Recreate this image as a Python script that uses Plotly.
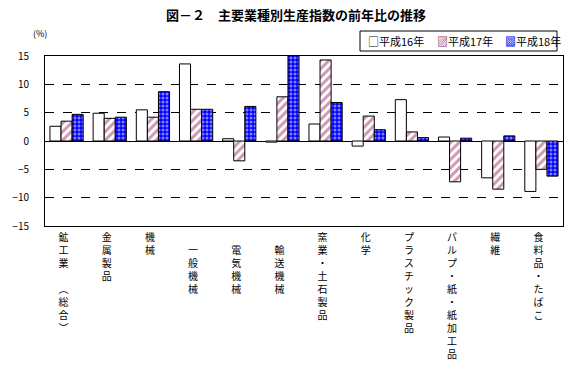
import plotly.graph_objects as go

categories = ["鉱工業　（総合）", "金属製品", "機械", "　一般機械", "　電気機械", "　輸送機械",
              "窯業・土石製品", "化学", "プラスチック製品", "パルプ・紙・紙加工品", "繊維", "食料品・たばこ"]
h16 = [2.6, 4.9, 5.5, 13.6, 0.4, -0.2, 3.0, -0.9, 7.3, 0.7, -6.5, -8.9]
h17 = [3.5, 4.0, 4.2, 5.6, -3.5, 7.8, 14.3, 4.4, 1.6, -7.2, -8.5, -5.0]
h18 = [4.7, 4.2, 8.7, 5.6, 6.1, 15.2, 6.8, 2.0, 0.6, 0.5, 0.9, -6.2]
series_names = ["平成16年", "平成17年", "平成18年"]
yticks = [-15, -10, -5, 0, 5, 10, 15]

VPAREN = {"（": "\ufe35", "）": "\ufe36"}


def vertical(label):
    return "<br>".join(VPAREN.get(c, c) for c in label)


ticktext = [vertical(c) for c in categories]

FONT = "Noto Sans CJK JP"
W, H = 576, 382
ML, MR, MT, MB = 45, 13, 56, 156
PW, PH = W - ML - MR, H - MT - MB


def px_x(x):
    return (x - ML) / PW


def px_y(y):
    return (H - MB - y) / PH


fig = go.Figure()
fig.add_bar(x=categories, y=h16, name=series_names[0],
            marker=dict(color="white", line=dict(color="black", width=1)))
fig.add_bar(x=categories, y=h17, name=series_names[1],
            marker=dict(color="white", line=dict(color="black", width=1),
                        pattern=dict(shape="/", fgcolor="#993366", bgcolor="white",
                                     size=6, solidity=0.5)))
fig.add_bar(x=categories, y=h18, name=series_names[2],
            marker=dict(color="#0000FF", line=dict(color="black", width=1),
                        pattern=dict(shape=".", fgcolor="white", bgcolor="#0000FF",
                                     size=4, solidity=0.45)))

fig.update_layout(
    width=W, height=H,
    margin=dict(l=ML, r=MR, t=MT, b=MB),
    paper_bgcolor="white", plot_bgcolor="white",
    barmode="group", bargap=0.23, bargroupgap=0,
    font=dict(family=FONT, size=10, color="black"),
    title=dict(text="<b>図－２　主要業種別生産指数の前年比の推移</b>",
               x=296 / W, xanchor="center", y=1 - 15 / H, yanchor="middle",
               font=dict(size=13, family=FONT)),
    showlegend=False,
    hovermode=False,
)
fig.update_xaxes(tickmode="array", tickvals=categories, ticktext=ticktext,
                 showline=True, linecolor="black", linewidth=1, mirror=True,
                 ticks="", tickangle=0, ticklabelshift=-3, ticklabelstandoff=2,
                 tickfont=dict(size=10))
fig.update_yaxes(range=[-15, 15], tickvals=yticks, showline=True, linecolor="black",
                 linewidth=1, mirror=True, showgrid=True, gridcolor="black",
                 griddash="dash", gridwidth=1, zeroline=True, zerolinecolor="black",
                 zerolinewidth=1, ticks="", ticklabelstandoff=13, tickfont=dict(size=10))
fig.add_annotation(text="(%)", xref="paper", yref="paper", x=px_x(40), y=px_y(33),
                   showarrow=False, font=dict(size=9), xanchor="center", yanchor="middle")

# legend box (drawn manually to match the compact original legend)
fig.add_shape(type="rect", xref="paper", yref="paper",
              x0=px_x(360), x1=px_x(557), y0=px_y(51), y1=px_y(31),
              line=dict(color="black", width=1), fillcolor="white")
legend_syms = [("□", "black"), ("▨", "#993366"), ("▩", "#0000FF")]
legend_x = [366, 435, 503]
for (sym, col), name, lx in zip(legend_syms, series_names, legend_x):
    fig.add_annotation(
        text=f'<span style="color:{col}">{sym}</span>{name}',
        xref="paper", yref="paper", x=px_x(lx), y=px_y(41),
        xanchor="left", yanchor="middle", showarrow=False,
        font=dict(size=11, family=FONT))

fig.write_html("out.html", config={"displayModeBar": False},
               post_script="document.body.style.margin='0px';")
